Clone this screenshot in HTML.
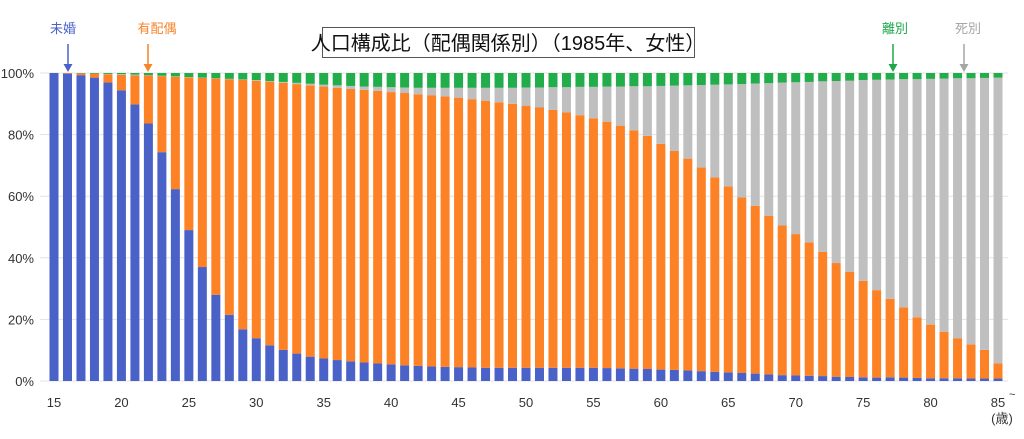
<!DOCTYPE html>
<html><head><meta charset="utf-8">
<style>
body{margin:0;background:#fff;width:1024px;height:434px;overflow:hidden;font-family:"Liberation Sans","Noto Sans CJK JP",sans-serif;}
svg text{font-family:"Liberation Sans","Noto Sans CJK JP",sans-serif;}
</style></head>
<body>
<svg id="chart" width="1024" height="434" xmlns="http://www.w3.org/2000/svg">
<g id="grid"></g>
<g id="bars"></g>
<g id="yaxis"></g>
<g id="xaxis"></g>
<g>
<rect x="322.5" y="27.5" width="372" height="30" fill="#fff" stroke="#555" stroke-width="1"/>
<text x="508" y="50" font-size="20" text-anchor="middle" fill="#111">人口構成比（配偶関係別）（1985年、女性）</text>
</g>
<g>
<text x="63" y="33" font-size="13" fill="#4a62c8" text-anchor="middle">未婚</text>
<line x1="68" y1="44" x2="68" y2="67" stroke="#4a62c8" stroke-width="1.5"/><path d="M63.5,64 L68,72 L72.5,64Z" fill="#4a62c8"/>
</g>
<g>
<text x="157" y="33" font-size="13" fill="#f7832a" text-anchor="middle">有配偶</text>
<line x1="148" y1="44" x2="148" y2="67" stroke="#f7832a" stroke-width="1.5"/><path d="M143.5,64 L148,72 L152.5,64Z" fill="#f7832a"/>
</g>
<g>
<text x="895" y="33" font-size="13" fill="#1fa84a" text-anchor="middle">離別</text>
<line x1="893" y1="44" x2="893" y2="67" stroke="#1fa84a" stroke-width="1.5"/><path d="M888.5,64 L893,72 L897.5,64Z" fill="#1fa84a"/>
</g>
<g>
<text x="968" y="33" font-size="13" fill="#a6a6a6" text-anchor="middle">死別</text>
<line x1="964" y1="44" x2="964" y2="67" stroke="#a6a6a6" stroke-width="1.5"/><path d="M959.5,64 L964,72 L968.5,64Z" fill="#a6a6a6"/>
</g>
<text x="1002" y="423" font-size="13" fill="#333" text-anchor="middle">(歳)</text>
<text x="1009" y="398" font-size="11" fill="#333">~</text>
</svg>
<script>
const ages = [15,16,17,18,19,20,21,22,23,24,25,26,27,28,29,30,31,32,33,34,35,36,37,38,39,40,41,42,43,44,45,46,47,48,49,50,51,52,53,54,55,56,57,58,59,60,61,62,63,64,65,66,67,68,69,70,71,72,73,74,75,76,77,78,79,80,81,82,83,84,85];
const unmarried = [100,99.8,99.3,98.5,96.9,94.4,89.8,83.6,74.3,62.3,49,37,28,21.5,16.8,13.9,11.6,10.1,8.9,7.9,7.3,6.8,6.4,6,5.7,5.4,5.1,4.9,4.7,4.6,4.5,4.4,4.3,4.3,4.3,4.3,4.3,4.3,4.3,4.3,4.3,4.2,4.1,4.0,3.9,3.7,3.6,3.4,3.2,3.0,2.8,2.6,2.4,2.1,1.9,1.8,1.7,1.6,1.4,1.3,1.2,1.1,1.2,1.1,1.0,0.9,0.9,0.9,0.8,0.8,0.8];
const married = [0,0.2,0.6,1.3,2.7,5.0,9.4,15.6,24.7,36.5,49.6,61.4,70.2,76.5,81.0,83.6,85.6,86.7,87.5,88.1,88.3,88.4,88.4,88.5,88.5,88.4,88.4,88.2,88.1,87.8,87.5,87.1,86.7,86.2,85.7,85.1,84.5,83.7,82.9,82.0,81.0,80.0,78.8,77.4,75.7,73.3,71.1,68.8,66.1,63.1,60.4,57.0,54.5,51.5,48.6,45.9,43.3,40.3,36.9,34.1,31.3,28.4,25.5,22.8,19.7,17.4,15.1,13.0,11.1,9.3,4.9];
const divorced = [0,0,0.1,0.2,0.3,0.4,0.5,0.7,0.9,1.1,1.3,1.5,1.7,1.9,2.1,2.3,2.6,2.9,3.2,3.5,3.8,4.0,4.2,4.4,4.5,4.6,4.7,4.8,4.8,4.8,4.8,4.8,4.8,4.8,4.8,4.7,4.7,4.6,4.6,4.5,4.5,4.4,4.4,4.3,4.3,4.2,4.1,4.0,3.9,3.8,3.7,3.6,3.4,3.3,3.1,3.0,2.9,2.7,2.6,2.5,2.3,2.2,2.1,2.0,2.0,1.9,1.8,1.7,1.7,1.6,1.5];
const yTicks = [0,20,40,60,80,100];
const xTicks = [15,20,25,30,35,40,45,50,55,60,65,70,75,80,85];

const NS='http://www.w3.org/2000/svg';
const X0=54, STEP=(998-54)/70, Y0=381, Y100=73, BW=9;
const xOf=a=>X0+(a-15)*STEP;
const yOf=v=>Y0-(v/100)*(Y0-Y100);
function mk(tag,attrs,parent){const e=document.createElementNS(NS,tag);for(const k in attrs)e.setAttribute(k,attrs[k]);parent.appendChild(e);return e;}
const grid=document.getElementById('grid'),yax=document.getElementById('yaxis'),xax=document.getElementById('xaxis'),bars=document.getElementById('bars');
yTicks.forEach(t=>{
  const l=mk('line',{x1:40,x2:1008,y1:yOf(t),y2:yOf(t),stroke:'#e3e3e3','stroke-width':1},grid);
  
  
  const tx=mk('text',{x:34,y:yOf(t)+5,'font-size':13,'text-anchor':'end',fill:'#333'},yax);
  tx.textContent=t+'%';
  
  
});
xTicks.forEach(t=>{
  const tx=mk('text',{x:xOf(t),y:407,'font-size':13,'text-anchor':'middle',fill:'#333'},xax);
  tx.textContent=t;
  
  
});
ages.forEach((a,i)=>{
  const x=xOf(a)-BW/2;
  const u=unmarried[i], m=married[i], d=divorced[i];
  const w=Math.max(0,100-u-m-d);
  const segs=[['unmarried',u,'#4a62c8'],['married',m,'#fd8125'],['widowed',w,'#bfbfbf'],['divorced',d,'#20ad4a']];
  let base=0;
  segs.forEach(([n,v,c])=>{
    if(v<=0)return;
    const r=mk('rect',{x:x,y:yOf(base+v),width:BW,height:yOf(base)-yOf(base+v),fill:c},bars);
    
    
    base+=v;
  });
});
</script>
</body></html>
